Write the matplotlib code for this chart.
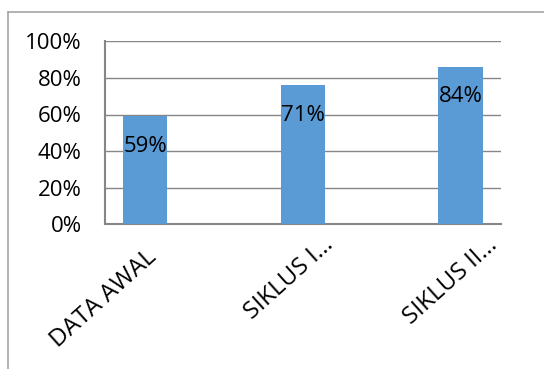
import matplotlib
matplotlib.use("Agg")
import matplotlib.pyplot as plt
from matplotlib.lines import Line2D
from matplotlib.transforms import ScaledTranslation

categories = ["DATA AWAL", "SIKLUS I…", "SIKLUS II…"]
bar_values = [59, 76, 86]
label_texts = ["59%", "71%", "84%"]
yticks = [0, 20, 40, 60, 80, 100]

plt.rcParams['font.family'] = ['Open Sans', 'DejaVu Sans']

fig = plt.figure(figsize=(5.44, 3.69), dpi=100)
ax = fig.add_axes([105.3/544, 1-224.3/369, (500.7-105.3)/544, (224.3-41.3)/369])

xs = list(range(len(categories)))
ax.bar(xs, bar_values, width=0.283, color="#5B9BD5", zorder=3)
for x, v, t in zip(xs, bar_values, label_texts):
    ax.annotate(t, (x, v), xytext=(0, -21.6), textcoords="offset points",
                ha="center", va="center", fontsize=16, color="black", zorder=4)

ax.set_xlim(-0.252, 2.254)
ax.set_ylim(0, 100)
ax.set_yticks(yticks)
ax.set_yticklabels([f"{t}%" for t in yticks], fontsize=16)
ax.yaxis.grid(True, color="#868686", linewidth=1.0, zorder=0)
ax.set_axisbelow(True)
ax.tick_params(axis="y", length=0, pad=17)
ax.set_xticks(xs)
ax.tick_params(axis="x", length=0, labelbottom=False)

# category labels (rotated; anchor = baseline end, offsets in pixels from the tick)
label_offsets_px = [(12, 34.7), (31.5, 21.7), (37.3, 22.3)]
for x, name, (dx, dy) in zip(xs, categories, label_offsets_px):
    tr = ax.get_xaxis_transform() + ScaledTranslation(dx / 100, -dy / 100, fig.dpi_scale_trans)
    ax.text(x, 0, name, transform=tr, rotation=42, ha="right", va="baseline",
            rotation_mode="anchor", fontsize=17.5, color="black", clip_on=False)

for s in ["top", "right"]:
    ax.spines[s].set_visible(False)
for s in ["left", "bottom"]:
    ax.spines[s].set_color("#868686")
    ax.spines[s].set_linewidth(1.5)

# outer chart border (partially cut off)
fig.add_artist(Line2D([7.5/544, 1.0], [1-11.7/369, 1-11.7/369], transform=fig.transFigure,
                      color="#A6A6A6", linewidth=1.2))
fig.add_artist(Line2D([7.5/544, 7.5/544], [1-11.7/369, 0.0], transform=fig.transFigure,
                      color="#A6A6A6", linewidth=1.2))

fig.savefig("out.png", dpi=100)
